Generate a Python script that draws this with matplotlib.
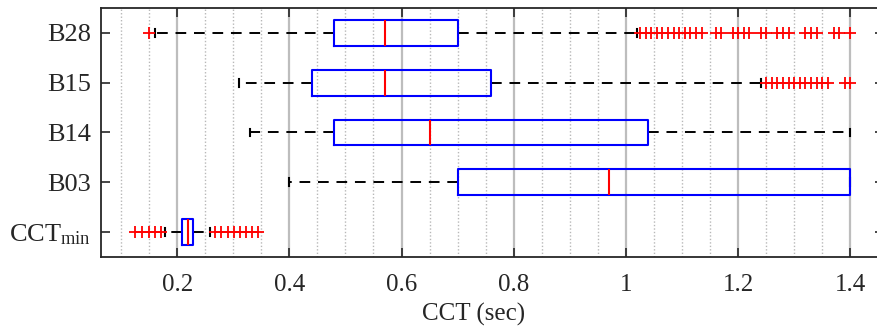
import matplotlib
matplotlib.use("Agg")
import matplotlib.pyplot as plt
from matplotlib.ticker import MultipleLocator

plt.rcParams["font.family"] = ["Liberation Serif", "DejaVu Serif"]
plt.rcParams["mathtext.fontset"] = "custom"
plt.rcParams["mathtext.rm"] = "Liberation Serif"
plt.rcParams["mathtext.it"] = "Liberation Serif:italic"

# Categories, bottom to top
labels = [r"CCT$_{\mathrm{min}}$", "B03", "B14", "B15", "B28"]

# Box statistics (seconds)
q1 = [0.208, 0.70, 0.48, 0.44, 0.48]
medians = [0.219, 0.97, 0.65, 0.57, 0.57]
q3 = [0.228, 1.40, 1.04, 0.76, 0.70]
whisker_lo = [0.179, 0.40, 0.33, 0.31, 0.16]
whisker_hi = [0.259, 1.40, 1.40, 1.24, 1.02]

# Outliers
fliers_cctmin = [0.125, 0.137, 0.149, 0.160, 0.171,
                 0.268, 0.279, 0.290, 0.301, 0.312, 0.323, 0.334, 0.345]
fliers_b03 = []
fliers_b14 = []
fliers_b15 = [1.25, 1.26, 1.27, 1.28, 1.29, 1.30, 1.31, 1.32, 1.33, 1.34,
              1.35, 1.36, 1.39, 1.40]
fliers_b28 = [0.15,
              1.025, 1.035, 1.045, 1.055, 1.065, 1.075, 1.085, 1.095, 1.105,
              1.115, 1.125, 1.135, 1.16, 1.17, 1.19, 1.20, 1.21, 1.22, 1.24,
              1.25, 1.27, 1.28, 1.29, 1.32, 1.33, 1.34, 1.37, 1.38, 1.40]
fliers = [fliers_cctmin, fliers_b03, fliers_b14, fliers_b15, fliers_b28]

stats = []
for i, lab in enumerate(labels):
    stats.append(dict(label=lab, q1=q1[i], med=medians[i], q3=q3[i],
                      whislo=whisker_lo[i], whishi=whisker_hi[i],
                      fliers=fliers[i]))

W, H, DPI = 878, 331, 100
fig = plt.figure(figsize=(W / DPI, H / DPI), dpi=DPI)
x0, x1, ytop, ybot = 101, 884, 8, 257
ax = fig.add_axes([x0 / W, 1 - ybot / H, (x1 - x0) / W, (ybot - ytop) / H])

ax.bxp(stats, positions=[1, 2, 3, 4, 5], orientation="horizontal",
       widths=0.52, capwidths=0.16, showfliers=True,
       boxprops=dict(color="#0000ff", linewidth=1.5, zorder=4),
       medianprops=dict(color="#ff0000", linewidth=1.5, zorder=5),
       whiskerprops=dict(color="black", linewidth=1.4,
                         linestyle=(0, (5.5, 4)), zorder=3),
       capprops=dict(color="black", linewidth=1.5, zorder=2),
       flierprops=dict(marker="+", markeredgecolor="#ff0000",
                       markersize=8.5, markeredgewidth=1.3, linestyle="none",
                       zorder=6))

ax.set_xlim(0.0643, 1.46)
ax.set_ylim(0.5, 5.5)
ax.xaxis.set_major_locator(MultipleLocator(0.2))
ax.xaxis.set_minor_locator(MultipleLocator(0.05))
ax.set_xticks([0.2, 0.4, 0.6, 0.8, 1.0, 1.2, 1.4])
ax.set_xticklabels(["0.2", "0.4", "0.6", "0.8", "1", "1.2", "1.4"])
ax.set_yticks([1, 2, 3, 4, 5])
ax.set_yticklabels(labels)

ax.set_axisbelow(True)
ax.grid(True, axis="x", which="major", color="#bdbdbd", linewidth=1.6,
        linestyle="-")
ax.grid(True, axis="x", which="minor", color="#b8b8b8", linewidth=1.0,
        linestyle=(0, (1, 1.5)))
ax.grid(False, axis="y")

ax.tick_params(axis="both", which="major", direction="in", length=6.5,
               width=1.2, color="#262626", labelcolor="#262626")
ax.tick_params(axis="x", which="major", top=True, pad=12, labelsize=18)
ax.tick_params(axis="y", which="major", right=True, pad=7, labelsize=19)
ax.tick_params(axis="x", which="minor", length=0)
for s in ax.spines.values():
    s.set_color("#262626")
    s.set_linewidth(1.3)

ax.set_xlabel("CCT (sec)", fontsize=18, color="#262626")
ax.xaxis.set_label_coords((474 - x0) / (x1 - x0), -0.185)

fig.savefig("out.png", dpi=DPI)
